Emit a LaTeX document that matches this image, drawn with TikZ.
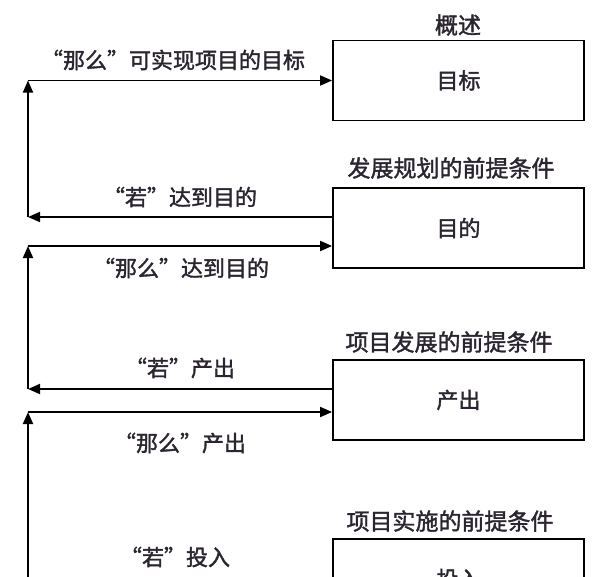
\documentclass[tikz,border=0pt]{standalone}
\usepackage{fontspec}
\newfontfamily\cjk{Noto Sans CJK SC}[FakeBold=1.6]
\usetikzlibrary{arrows.meta}
\definecolor{txt}{HTML}{2B2530}
\begin{document}
\begin{tikzpicture}[x=1pt,y=-1pt,
  box/.style={draw, line width=1.8pt, minimum width=251pt, minimum height=80pt, inner sep=0pt, font=\cjk\fontsize{22}{22}\selectfont, text=txt},
  lbl/.style={font=\cjk\fontsize{22}{22}\selectfont, text=txt, inner sep=0pt},
  head/.style={font=\cjk\fontsize{23}{23}\selectfont, text=txt, inner sep=0pt},
  arr/.style={line width=1.8pt, -{Triangle[length=12pt,width=10pt]}}]
\useasboundingbox (0,0) rectangle (616,576);
\clip (0,0) rectangle (616,576);
\fill[white] (0,0) rectangle (616,576);
% boxes
\node[box] (box1) at (458.5,80.5) {目标};
\node[box] (box2) at (458.5,228) {目的};
\node[box] (box3) at (458.5,400) {产出};
\node[box] (box4) at (458.5,579) {投入};
% headings
\node[head] (h1) at (458,25) {概述};
\node[head] (h2) at (451,168) {发展规划的前提条件};
\node[head] (h3) at (449,342) {项目发展的前提条件};
\node[head] (h4) at (450,521) {项目实施的前提条件};
% labels
\node[lbl] (l1) at (173,60) {“那么”可实现项目的目标};
\node[lbl] (l2) at (180,197) {“若”达到目的};
\node[lbl] (l3) at (181,268) {“那么”达到目的};
\node[lbl] (l4) at (180,368) {“若”产出};
\node[lbl] (l5) at (180,443) {“那么”产出};
\node[lbl] (l6) at (175,557) {“若”投入};
% connector points
\coordinate (a1) at (28,80.5);
\coordinate (b2) at (28,217);
\coordinate (a2) at (28,246);
\coordinate (b3) at (28,389);
\coordinate (a3) at (28,412);
\coordinate (bot) at (28,590);
% connectors
\draw[arr] (a1) -- (box1.west);
\draw[arr] (box2.west |- b2) -- (b2);
\draw[arr] (b2) -- (a1);
\draw[arr] (a2) -- (box2.west |- a2);
\draw[arr] (box3.west |- b3) -- (b3);
\draw[arr] (b3) -- (a2);
\draw[arr] (a3) -- (box3.west |- a3);
\draw[arr] (bot) -- (a3);
\end{tikzpicture}
\end{document}
